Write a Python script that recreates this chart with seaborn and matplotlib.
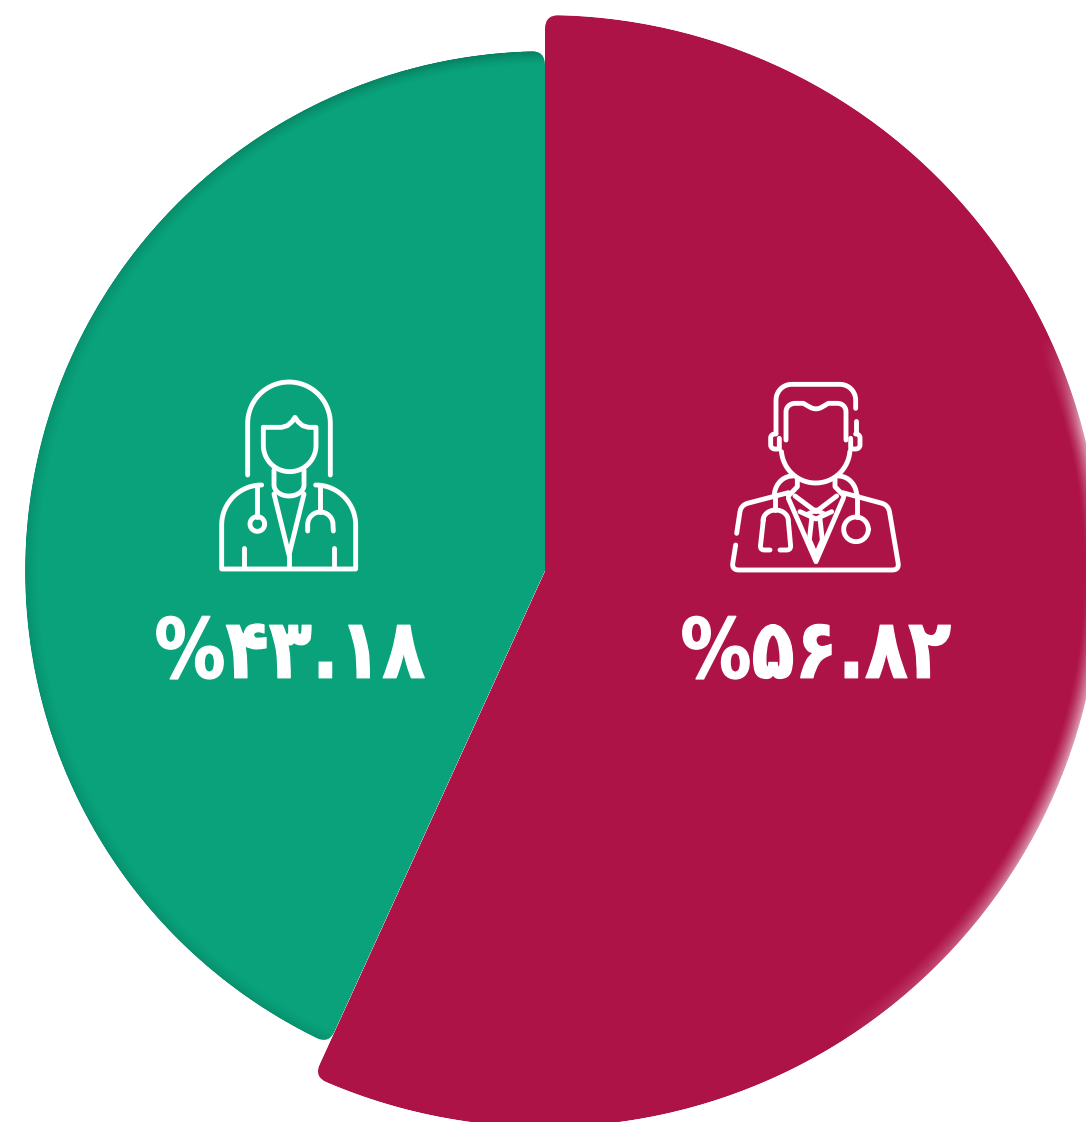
import numpy as np
import matplotlib
matplotlib.use("Agg")
import matplotlib.pyplot as plt
from matplotlib.path import Path
from matplotlib.patheffects import AbstractPathEffect
from matplotlib.transforms import Affine2D
import matplotlib.colors as mcolors
import seaborn as sns

# ---- data ----
groups = ["مردان", "زنان"]
shares = [56.82, 43.18]
labels = ["%۵۶.۸۲", "%۴۳.۱۸"]
colors = ["#AE1347", "#09A27B"]

W, H = 1086, 1122
CX, CY = 545, 571
R_RED, R_GREEN = 556, 520
CORNER = 14

sns.set_theme(style="white")
fig = plt.figure(figsize=(W / 100, H / 100), dpi=100, facecolor="white")
ax = fig.add_axes([0, 0, 1, 1])
ax.set_facecolor("white")


def rounded_path(a1, a2, r, cr):
    """Wedge outline from a1 to a2 (degrees, data space) with rounded outer corners."""
    d = np.degrees(cr / r)
    th = np.radians(np.linspace(a1 + d, a2 - d, 500))
    pt = lambda a, rad: (CX + rad * np.cos(np.radians(a)), CY + rad * np.sin(np.radians(a)))
    verts = [(CX, CY), pt(a1, r - cr)]
    codes = [Path.MOVETO, Path.LINETO]
    verts += [pt(a1, r), pt(a1 + d, r)]
    codes += [Path.CURVE3, Path.CURVE3]
    verts += list(zip(CX + r * np.cos(th), CY + r * np.sin(th)))
    codes += [Path.LINETO] * 500
    verts += [pt(a2, r), pt(a2, r - cr), (CX, CY)]
    codes += [Path.CURVE3, Path.CURVE3, Path.CLOSEPOLY]
    return Path(verts, codes)


def rim(color, path, r, width, strength, zorder):
    """Soft band just inside the arc of a slice; strength(angle) gives its opacity."""
    yy, xx = np.mgrid[0.5:H, 0.5:W]
    dist = r - np.hypot(xx - CX, yy - CY)
    ang = np.degrees(np.arctan2(yy - CY, xx - CX))
    a = np.clip(1 - dist / width, 0, 1) ** 1.4 * strength(ang)
    a[dist < 0] = 0
    rgba = np.zeros((H, W, 4))
    rgba[..., :3] = mcolors.to_rgb(color)
    rgba[..., 3] = a
    im = ax.imshow(rgba, extent=(0, W, H, 0), zorder=zorder, interpolation="nearest", aspect="auto")
    im.set_clip_path(path, ax.transData)


# angles (y axis points down, so counterclock in data reads clockwise on screen)
split = -90 + shares[0] / sum(shares) * 360

# green first, red on top
w_g, _ = ax.pie(shares, radius=R_GREEN, center=(CX, CY), startangle=-90, counterclock=True,
                colors=["none", colors[1]], frame=True, wedgeprops=dict(linewidth=0))
green_path = rounded_path(split, 270, R_GREEN, CORNER)
w_g[1].set_clip_on(True)
w_g[1].set_clip_path(green_path, ax.transData)
rim("#05553F", green_path, R_GREEN, 14,
    lambda a: 0.24 + 0.22 * np.clip((-np.sin(np.radians(a))), 0, 1) ** 4, 2)

w_r, _ = ax.pie(shares, radius=R_RED, center=(CX, CY), startangle=-90, counterclock=True,
                colors=[colors[0], "none"], frame=True, wedgeprops=dict(linewidth=0, zorder=3))
red_path = rounded_path(-90, split, R_RED, CORNER)
w_r[0].set_clip_on(True)
w_r[0].set_clip_path(red_path, ax.transData)
rim("white", red_path, R_RED, 17,
    lambda a: 0.6 * np.clip((a + 25) / 10, 0, 1) * np.clip((58 - a) / 30, 0, 1), 4)

ax.set_xlim(0, W)
ax.set_ylim(H, 0)
ax.set_aspect("equal")
ax.axis("off")

# ---- icons (line drawings, given in 3x crop coordinates) ----
LW = 3.5


def stroke(pts, ox, oy):
    pts = np.asarray(pts, float)
    ax.plot(ox + pts[:, 0] / 3, oy + pts[:, 1] / 3, color="white", lw=LW,
            solid_capstyle="round", solid_joinstyle="round", zorder=6)


def arc(cx, cy, rx, ry, a1, a2, n=40):
    t = np.radians(np.linspace(a1, a2, n))
    return np.column_stack([cx + rx * np.cos(t), cy + ry * np.sin(t)])


def join(*parts):
    return np.vstack([np.atleast_2d(p) for p in parts])


def smooth(pts, r=22):
    """Polyline with its inner corners rounded."""
    pts = np.asarray(pts, float)
    out = [pts[0]]
    for p0, p1, p2 in zip(pts[:-2], pts[1:-1], pts[2:]):
        a = p1 + (p0 - p1) * min(r / np.linalg.norm(p0 - p1), 0.5)
        b = p1 + (p2 - p1) * min(r / np.linalg.norm(p2 - p1), 0.5)
        for t in np.linspace(0, 1, 10):
            out.append((1 - t) ** 2 * a + 2 * t * (1 - t) * p1 + t ** 2 * b)
    out.append(pts[-1])
    return np.array(out)


# woman
ox, oy = 200, 370
stroke(join([143, 315], arc(267, 160, 124, 124, 180, 360), [391, 315]), ox, oy)
stroke(join([190, 172], [245, 172], [262, 167], [276, 155], [285, 142], [294, 155], [308, 167],
            [325, 172], [348, 172], arc(269, 226, 79, 79, 0, 180), [190, 172]), ox, oy)
stroke(join([222, 300], [222, 345], arc(267, 345, 45, 33, 180, 0), [312, 300]), ox, oy)
stroke([[222, 372], [267, 555], [312, 372]], ox, oy)
stroke([[267, 555], [267, 595]], ox, oy)
stroke(join(arc(185, 465, 120, 120, 270, 180), [65, 597], [467, 597],
            arc(347, 465, 120, 120, 0, -90)), ox, oy)
stroke([[133, 535], [133, 595]], ox, oy)
stroke([[402, 535], [402, 595]], ox, oy)
stroke([[172, 345], [172, 440]], ox, oy)
stroke(arc(172, 462, 22, 22, 0, 360), ox, oy)
stroke([[360, 345], [360, 425]], ox, oy)
stroke(join([323, 483], arc(361, 464, 38, 38, 180, 360), [400, 483]), ox, oy)

# man
ox, oy = 720, 370
stroke(join([168, 190], arc(215, 90, 47, 47, 180, 270, 12), arc(360, 90, 47, 47, 270, 360, 12),
            [407, 115]), ox, oy)
stroke([[407, 152], [407, 190]], ox, oy)
stroke(join([198, 210], arc(225, 125, 27, 25, 180, 270, 10), [250, 100],
            smooth([[250, 100], [288, 122], [325, 100]], 35), [325, 100],
            arc(353, 125, 25, 25, 270, 360, 10), [378, 210]), ox, oy)
stroke(join([168, 192], arc(165, 203, 13, 11, 270, 180, 8), [152, 225],
            arc(165, 225, 13, 12, 180, 90, 8), [178, 237], [178, 205]), ox, oy)
stroke(join([407, 192], arc(407, 203, 13, 11, 270, 360, 8), [420, 225],
            arc(407, 225, 13, 12, 0, 90, 8), [392, 237], [392, 205]), ox, oy)
stroke(arc(287, 236, 103, 103, 175, 5), ox, oy)
stroke(join([232, 325], [232, 350], [205, 378]), ox, oy)
stroke(join([345, 325], [345, 350], [372, 378]), ox, oy)
stroke(arc(218, 378, 55, 60, 180, 270, 16), ox, oy)
stroke(arc(355, 378, 55, 60, 270, 360, 16), ox, oy)
stroke(smooth([[50, 490], [63, 405], [205, 368]]), ox, oy)
stroke(smooth([[368, 368], [505, 405], [538, 600], [35, 600], [47, 525]]), ox, oy)
stroke([[205, 385], [288, 575], [370, 385]], ox, oy)
stroke([[225, 378], [288, 425], [350, 378]], ox, oy)
stroke([[240, 425], [288, 447], [335, 425]], ox, oy)
stroke([[262, 433], [288, 420], [315, 433]], ox, oy)
stroke([[275, 447], [268, 510], [288, 555], [307, 510], [300, 447]], ox, oy)
stroke([[165, 375], [165, 420]], ox, oy)
stroke(smooth([[150, 540], [120, 540], [130, 450]], 14), ox, oy)
stroke(join([130, 450], arc(167, 452, 38, 32, 180, 360, 16), [205, 452]), ox, oy)
stroke(smooth([[205, 452], [213, 540], [180, 540]], 14), ox, oy)
stroke([[410, 375], [410, 440]], ox, oy)
stroke(arc(408, 478, 37, 37, 0, 360), ox, oy)


# ---- percentage labels ----
class Stretch(AbstractPathEffect):
    """Draw text taller than its font size and slightly heavier, around a fixed point."""

    def __init__(self, cy, sy, extra):
        super().__init__()
        self.cy, self.sy, self.extra = cy, sy, extra

    def draw_path(self, renderer, gc, tpath, affine, rgbFace=None):
        gc0 = renderer.new_gc()
        gc0.copy_properties(gc)
        gc0.set_foreground("white")
        gc0.set_linewidth(self.extra)
        gc0.set_joinstyle("round")
        t = affine + Affine2D().translate(0, -self.cy).scale(1, self.sy).translate(0, self.cy)
        renderer.draw_path(gc0, tpath, t, rgbFace)
        gc0.restore()


for txt, x in zip(labels, (816, 290)):
    cy = ax.transData.transform((x, 655))[1]
    ax.text(x, 655, txt, color="white", ha="center", va="center", fontsize=51,
            fontfamily="DejaVu Sans", fontweight="bold", zorder=7,
            path_effects=[Stretch(cy, 1.17, 0.9)])

fig.savefig("out.png", dpi=100, facecolor="white")
